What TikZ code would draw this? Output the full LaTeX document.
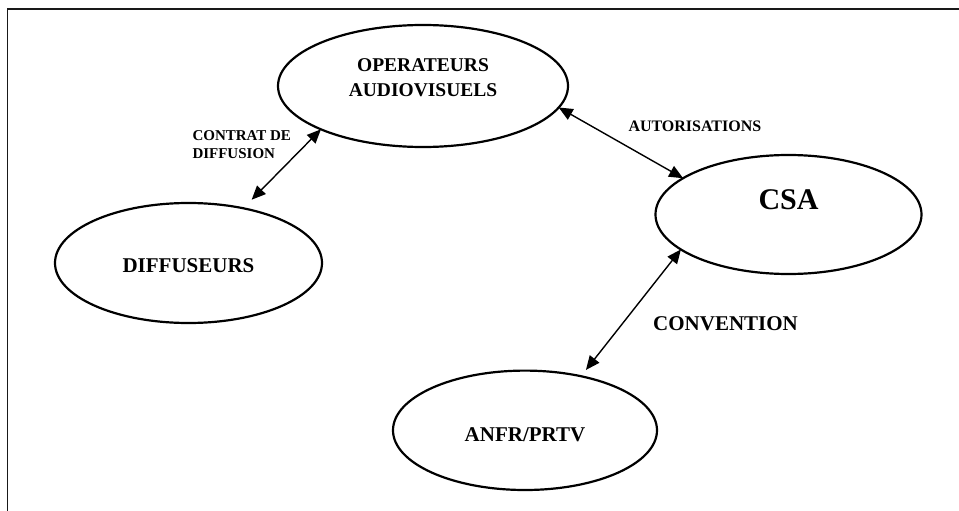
\documentclass[tikz,border=0pt]{standalone}
\usepackage{fontspec}
\setmainfont{Liberation Serif}
\usetikzlibrary{arrows.meta,shapes.geometric}
\begin{document}
\begin{tikzpicture}[x=1pt,y=-1pt,
  ell/.style={draw, ellipse, line width=2.2pt, inner sep=0pt, outer sep=0pt},
  link/.style={line width=1.4pt, {Triangle[length=14pt,width=12pt]}-{Triangle[length=14pt,width=12pt]}},
  txt/.style={inner sep=0pt},
  frameline/.style={line width=1.6pt, draw=black!90}]
\useasboundingbox (0,0) rectangle (959,511);
% frame (top and left sides only)
\coordinate (fb) at (7.3,511);
\coordinate (fc) at (7.3,9.3);
\coordinate (fr) at (959,9.3);
\draw[frameline] (fb) -- (fc) -- (fr);
% ellipses
\node[ell, minimum width=290pt, minimum height=122pt] (oper) at (423,86) {};
\node[ell, minimum width=266pt, minimum height=119pt] (csa) at (788.5,214.5) {};
\node[ell, minimum width=267pt, minimum height=120pt] (diff) at (188.5,263) {};
\node[ell, minimum width=264pt, minimum height=119.4pt] (anfr) at (525,430.3) {};
% texts in ellipses
\node[txt, font=\bfseries\fontsize{19.5}{25}\selectfont, align=center, anchor=north] (opertxt) at ([yshift=27.7pt]oper.center) {OPERATEURS\\AUDIOVISUELS};
\node[txt, font=\bfseries\fontsize{30}{36}\selectfont, anchor=base] (csatxt) at ([yshift=5.2pt]csa.center) {CSA};
\node[txt, font=\bfseries\fontsize{21}{25}\selectfont, anchor=base] (difftxt) at ([yshift=-9.3pt]diff.center) {DIFFUSEURS};
\node[txt, font=\bfseries\fontsize{21}{25}\selectfont, anchor=base] (anfrtxt) at ([yshift=-11.4pt]anfr.center) {ANFR/PRTV};
% connector labels
\node[txt, font=\bfseries\fontsize{15}{18.4}\selectfont, align=left, anchor=north west] (lcontrat) at (192.3,130) {CONTRAT DE\\DIFFUSION};
\node[txt, font=\bfseries\fontsize{16}{19}\selectfont, anchor=base west] (lauto) at (628.3,131) {AUTORISATIONS};
\node[txt, font=\bfseries\fontsize{21}{25}\selectfont, anchor=base west] (lconv) at (653,330) {CONVENTION};
% connectors
\draw[link, shorten >=12pt] (oper.203.5) -- (diff.45.9);
\draw[link] (oper.351.5) -- (csa.161.5);
\draw[link, shorten <=8pt] (anfr.44.5) -- (csa.198.6);
\end{tikzpicture}
\end{document}
